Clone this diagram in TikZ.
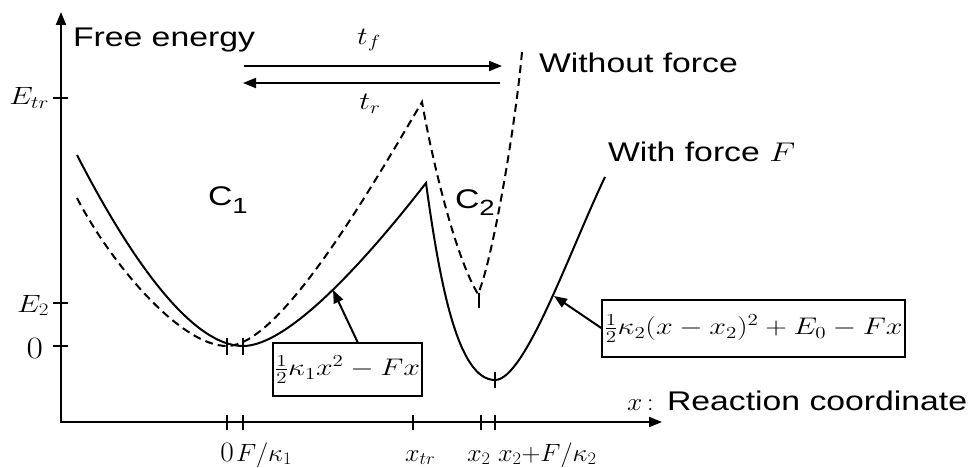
\RequirePackage{fix-cm}
\documentclass[tikz,border=0pt]{standalone}
\usepackage{fontspec}
\newfontfamily\arialf{Liberation Sans}
\usetikzlibrary{arrows.meta}
\newcommand\hsc[2][1.25]{\scalebox{#1}[1]{#2}}
\begin{document}
\begin{tikzpicture}[x=1pt,y=-1pt,
  every node/.style={inner sep=0pt, outer sep=0pt},
  txt/.style={font=\arialf\fontsize{27}{30}\selectfont},
  mlab/.style={font=\fontsize{25}{28}\selectfont},
  solidc/.style={line width=2pt},
  dashc/.style={line width=2pt, dash pattern=on 8pt off 5pt},
  axisline/.style={line width=2pt, {Triangle[length=13pt,width=10pt]}-{Triangle[length=13pt,width=10pt]}},
  tk/.style={line width=1.8pt},
  ptr/.style={line width=2pt, -{Triangle[length=13pt,width=10pt]}},
  frm/.style={draw, line width=1.8pt, font=\fontsize{24}{28}\selectfont}
]
\useasboundingbox[fill=white] (0,0) rectangle (975,468);

% axes
\coordinate (Ytop) at (61,12);
\coordinate (O) at (61,422);
\coordinate (Xend) at (662,422);
\draw[axisline] (Ytop) -- (O) -- (Xend);

% y ticks
\foreach \y in {98,303,346} \draw[tk] (53,\y) -- (68,\y);
% x ticks
\foreach \x in {227,243,413,481,495} \draw[tk] (\x,415) -- (\x,430);

% y labels
\node[mlab, anchor=base east] (etr) at (49,105) {\hsc[1.2]{$E_{tr}$}};
\node[mlab, anchor=base east] (e2) at (49,312) {\hsc[1.2]{$E_2$}};
\node[font=\fontsize{31}{34}\selectfont, anchor=base east] (y0) at (43,358) {\hsc[1.15]{0}};

% x labels
\node[font=\fontsize{28}{30}\selectfont, anchor=base] (l0) at (227,461) {\hsc[1.05]{0}};
\node[mlab, anchor=base west] (lF) at (236,461) {\hsc[1.05]{$F/\kappa_1$}};
\node[mlab, anchor=base west] (lxtr) at (405,461) {\hsc[1.05]{$x_{tr}$}};
\node[mlab, anchor=base west] (lx2) at (467,461) {\hsc[1.05]{$x_2$}};
\node[mlab, anchor=base west] (lx2F) at (498,461) {\hsc[1.05]{$x_2{+}F/\kappa_2$}};

% text labels
\node[txt, anchor=base west] (fe) at (73,47) {\hsc{Free energy}};
\node[txt, anchor=base west] (wo) at (539,73) {\hsc{Without force}};
\node[txt, anchor=base west] (wf) at (608,162) {\hsc{With force $F$}};
\node[txt, anchor=base west] (c1) at (208,205) {\hsc{C\raisebox{-8pt}{\fontsize{22}{24}\selectfont 1}}};
\node[txt, anchor=base west] (c2) at (455,208) {\hsc{C\raisebox{-7pt}{\fontsize{22}{24}\selectfont 2}}};
\node[mlab, anchor=base west] (xl) at (627,410) {\hsc[1.1]{$x$\,:}};
\node[txt, anchor=base west] (rc) at (667,410) {\hsc{Reaction coordinate}};

% solid curve (with force)
\coordinate (s0) at (77,155);
\coordinate (s1) at (243,346);
\coordinate (s2) at (426,183);
\coordinate (s3) at (495,380);
\coordinate (s4) at (605,177);
\draw[solidc] (s0) .. controls (118,235) and (185,346) .. (s1)
  .. controls (290,346) and (370,255) .. (s2)
  .. controls (440,285) and (458,380) .. (s3)
  .. controls (525,380) and (570,250) .. (s4);

% dashed curve (without force)
\coordinate (d0) at (77,198);
\coordinate (d1) at (227,346);
\coordinate (d2) at (422,102);
\coordinate (d3) at (478,294);
\coordinate (d4) at (522,52);
\draw[dashc] (d0) .. controls (110,262) and (180,346) .. (d1)
  .. controls (280,346) and (370,190) .. (d2)
  .. controls (435,175) and (458,262) .. (d3)
  .. controls (492,262) and (515,130) .. (d4);

% ticks on curves
\draw[tk] (227,338) -- (227,355);
\draw[tk] (243,338) -- (243,355);
\draw[tk] (495,372) -- (495,388);
\draw[tk] (479,293) -- (479,308);

% transition arrows
\coordinate (tfa) at (244,66);
\coordinate (tfb) at (502,66);
\coordinate (tra) at (500,83);
\coordinate (trb) at (243,83);
\draw[ptr] (tfa) -- (tfb);
\draw[ptr] (tra) -- (trb);
\node[mlab] (tf) at (369,40) {\hsc[1.2]{$t_f$}};
\node[mlab] (tr) at (370,104) {\hsc[1.2]{$t_r$}};

% formula boxes
\node[frm, minimum width=149pt, minimum height=53pt] (b1) at (347.5,369.5) {\hsc{$\frac12\kappa_1x^2-Fx$}};
\node[frm, minimum width=303pt, minimum height=57pt] (b2) at (753.5,328.5) {\hsc{$\frac12\kappa_2(x-x_2)^2+E_0-Fx$}};
\coordinate (a1) at (333,290);
\coordinate (a2) at (554,296);
\draw[ptr] ([xshift=10.5pt]b1.north) -- (a1);
\draw[ptr] (b2.west) -- (a2);
\end{tikzpicture}
\end{document}
